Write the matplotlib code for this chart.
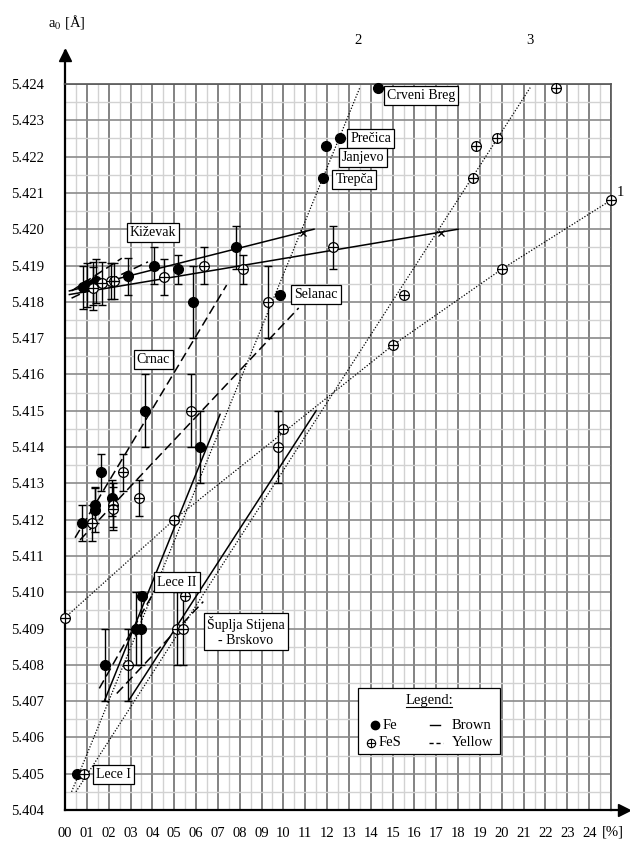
import matplotlib
matplotlib.use('Agg')
import matplotlib.pyplot as plt
import numpy as np
from matplotlib.patches import Rectangle

plt.rcParams['font.family'] = ['Liberation Serif', 'DejaVu Serif']
plt.rcParams['mathtext.fontset'] = 'stix'

# ---------------- data ----------------
# Fe (filled circles): x [%], a0 [A], error
fe_x = [0.84, 1.02, 1.30, 1.42, 2.90, 4.09, 5.19, 7.81,
        5.88, 9.84, 3.66, 6.18,
        0.80, 1.37, 1.37, 1.65, 2.17,
        0.53, 1.83, 3.25, 3.48, 3.51,
        11.80, 11.93, 12.60, 14.35]
fe_y = [5.4184, 5.41846, 5.4185, 5.41858, 5.4187, 5.4190, 5.4189, 5.4195,
        5.4180, 5.41819, 5.4150, 5.4140,
        5.4119, 5.4124, 5.41226, 5.4133, 5.4126,
        5.4050, 5.4080, 5.4090, 5.4090, 5.4099,
        5.4214, 5.4223, 5.4225, 5.4239]
fe_err = [0.0006, 0.0006, 0.0006, 0.0006, 0.0005, 0.0005, 0.0004, 0.0006,
          0.0010, 0.0, 0.0010, 0.0010,
          0.0005, 0.0005, 0.0006, 0.0005, 0.0005,
          0.0, 0.0010, 0.0010, 0.0010, 0.0,
          0.0, 0.0, 0.0, 0.0]

# FeS (crossed circles)
fes_x = [1.27, 1.68, 2.09, 2.24, 4.53, 6.36, 8.13, 9.28, 12.26,
         1.25, 2.20, 2.20, 2.64, 3.39, 5.77, 4.99, 9.74, 10.00,
         0.88, 0.00, 2.90, 5.11, 5.42, 5.49,
         15.50, 15.00, 20.00, 25.00, 18.70, 18.80, 19.80, 22.50]
fes_y = [5.41837, 5.41851, 5.41858, 5.41858, 5.41869, 5.4190, 5.4189, 5.4180, 5.4195,
         5.4119, 5.4124, 5.4123, 5.4133, 5.4126, 5.4150, 5.4120, 5.4140, 5.4145,
         5.4050, 5.4093, 5.4080, 5.4090, 5.4090, 5.4099,
         5.4182, 5.4168, 5.4189, 5.4208, 5.4214, 5.4223, 5.4225, 5.4239]
fes_err = [0.0006, 0.0006, 0.0005, 0.0005, 0.0005, 0.0005, 0.0004, 0.0010, 0.0006,
           0.0005, 0.0006, 0.0006, 0.0005, 0.0005, 0.0010, 0.0, 0.0010, 0.0,
           0.0, 0.0, 0.0010, 0.0010, 0.0010, 0.0,
           0.0, 0.0, 0.0, 0.0, 0.0, 0.0, 0.0, 0.0]

# Brown (solid) regression lines: [x0, x1], [y0, y1]
brown_x = [[0.2, 11.4], [0.2, 18.0], [1.8, 7.1], [2.9, 11.5]]
brown_y = [[5.4183, 5.4200], [5.4182, 5.4200], [5.4070, 5.4149], [5.4070, 5.4150]]

# Yellow (dashed) regression lines
yellow_x = [[0.3, 2.6], [0.3, 3.8], [0.46, 7.4], [0.69, 10.7], [1.57, 4.04], [2.37, 6.33]]
yellow_y = [[5.4183, 5.4192], [5.4181, 5.4191], [5.4115, 5.41846], [5.41144, 5.41783],
            [5.40735, 5.40997], [5.40721, 5.40974]]

# Dotted curves 1, 2, 3
curve1_x = [0.0, 5.0, 15.0, 20.0, 25.0]
curve1_y = [5.4093, 5.4120, 5.4168, 5.4189, 5.4208]
curve2_x = [0.3, 13.5]
curve2_y = [5.4045, 5.4239]
curve3_x = [0.5, 21.3]
curve3_y = [5.4045, 5.4239]

# intersection marks
cross_x = [10.9, 17.2]
cross_y = [5.4199, 5.4199]

# deposit labels
site_names = ['Kiževak', 'Crveni Breg', 'Prečica', 'Janjevo', 'Trepča', 'Selanac',
              'Crnac', 'Lece II', 'Šuplja Stijena\n- Brskovo', 'Lece I']
site_x = [4.03, 16.3, 14.0, 13.65, 13.25, 11.5, 4.04, 5.13, 8.28, 2.23]
site_y = [5.4199, 5.42369, 5.42251, 5.42198, 5.42138, 5.41819, 5.41642, 5.41028, 5.40891, 5.40498]

x_ticks = list(range(0, 25))
x_labels = ['%02d' % v for v in x_ticks]
y_ticks = [round(5.404 + 0.001 * i, 3) for i in range(21)]
y_labels = ['%.3f' % v for v in y_ticks]

# ---------------- figure ----------------
fig = plt.figure(figsize=(6.3, 8.42), dpi=100)
ax = fig.add_axes([65 / 630, 32 / 842, 546 / 630, 726 / 842])
ax.set_xlim(0, 25)
ax.set_ylim(5.404, 5.424)

ax.set_xticks(x_ticks + [25])
ax.set_xticklabels(x_labels + [''])
ax.set_xticks(np.arange(0.5, 25, 0.5), minor=True)
ax.set_yticks(y_ticks)
ax.set_yticklabels(y_labels)
ax.set_yticks(np.arange(5.4045, 5.424, 0.001), minor=True)
ax.tick_params(which='both', length=0)
ax.tick_params(axis='x', pad=12, labelsize=10.5)
ax.tick_params(axis='y', pad=15, labelsize=10.5)

ax.grid(which='major', axis='x', color='#7a7a7a', lw=1.3, zorder=0)
ax.grid(which='major', axis='y', color='#8a8a8a', lw=1.2, zorder=0)
ax.grid(which='minor', color='#d2d2d2', lw=1.0, zorder=0)
ax.set_axisbelow(True)

for s in ['top', 'right']:
    ax.spines[s].set_color('#555555')
    ax.spines[s].set_linewidth(1.2)
for s in ['bottom', 'left']:
    ax.spines[s].set_color('black')
    ax.spines[s].set_linewidth(1.6)

# axis arrows
ax.plot([0, 0], [1, 1.045], transform=ax.transAxes, color='black', lw=1.6, clip_on=False)
ax.plot([0], [1.04], marker='^', ms=8, color='black', transform=ax.transAxes, clip_on=False)
ax.plot([1, 1.028], [0, 0], transform=ax.transAxes, color='black', lw=1.6, clip_on=False)
ax.plot([1.024], [0], marker='>', ms=8, color='black', transform=ax.transAxes, clip_on=False)
ax.text(25.1, -0.03, '[%]', transform=ax.get_xaxis_transform(), ha='center', va='center',
        fontsize=10.5)
fig.text(48 / 630, 1 - 22 / 842, r'a$_0$ [Å]', fontsize=10.5, ha='left', va='center')

# lines
for xs, ys in zip(brown_x, brown_y):
    ax.plot(xs, ys, color='black', lw=1.1, ls='-', zorder=3)
for xs, ys in zip(yellow_x, yellow_y):
    ax.plot(xs, ys, color='black', lw=1.1, ls=(0, (6, 3)), zorder=3)
for xs, ys in [(curve1_x, curve1_y), (curve2_x, curve2_y), (curve3_x, curve3_y)]:
    ax.plot(xs, ys, color='black', lw=0.9, ls=(0, (1, 1.4)), zorder=3, clip_on=False)
ax.plot(cross_x, cross_y, 'x', ms=4, mew=0.9, color='black', zorder=4)

ax.text(13.4, 5.4252, '2', ha='center', va='center', fontsize=10.5)
ax.text(21.3, 5.4252, '3', ha='center', va='center', fontsize=10.5)
ax.text(25.45, 5.4210, '1', ha='center', va='center', fontsize=10.5)

# error bars
fe_xa, fe_ya, fe_ea = np.array(fe_x), np.array(fe_y), np.array(fe_err)
fes_xa, fes_ya, fes_ea = np.array(fes_x), np.array(fes_y), np.array(fes_err)
m = fe_ea > 0
ax.errorbar(fe_xa[m], fe_ya[m], yerr=fe_ea[m], fmt='none', ecolor='black',
            elinewidth=1.0, capsize=2.8, capthick=1.0, zorder=4)
m = fes_ea > 0
ax.errorbar(fes_xa[m], fes_ya[m], yerr=fes_ea[m], fmt='none', ecolor='black',
            elinewidth=1.0, capsize=2.8, capthick=1.0, zorder=4)

# markers
ax.plot(fe_x, fe_y, 'o', ms=7, mfc='black', mec='black', ls='none', zorder=5, clip_on=False)
ax.plot(fes_x, fes_y, 'o', ms=7, mfc='white', mec='black', mew=0.9, ls='none', zorder=5,
        clip_on=False)
ax.plot(fes_x, fes_y, '+', ms=7, mec='black', mew=0.9, ls='none', zorder=6, clip_on=False)

# site labels
for name, sx, sy in zip(site_names, site_x, site_y):
    ax.text(sx, sy, name, ha='center', va='center', fontsize=10, zorder=7,
            multialignment='center',
            bbox=dict(boxstyle='square,pad=0.22', fc='white', ec='black', lw=0.9))

# legend box
ax.add_patch(Rectangle((13.43, 5.40554), 6.49, 0.00181, fc='white', ec='black', lw=0.9,
                       zorder=7))
ax.text(16.67, 5.40702, 'Legend:', ha='center', va='center', fontsize=10.5, zorder=8)
ax.plot([15.62, 17.72], [5.40683, 5.40683], color='black', lw=0.8, zorder=8)
ax.plot([14.19], [5.40634], 'o', ms=6, color='black', zorder=8)
ax.text(14.55, 5.40634, 'Fe', ha='left', va='center', fontsize=10.5, zorder=8)
ax.plot([14.01], [5.40585], 'o', ms=6, mfc='white', mec='black', mew=0.8, zorder=8)
ax.plot([14.01], [5.40585], '+', ms=6, mec='black', mew=0.8, zorder=9)
ax.text(14.38, 5.40585, 'FeS', ha='left', va='center', fontsize=10.5, zorder=8)
ax.plot([16.71, 17.17], [5.40634, 5.40634], color='black', lw=1.0, zorder=8)
ax.text(17.7, 5.40634, 'Brown', ha='left', va='center', fontsize=10.5, zorder=8)
ax.plot([16.68, 17.30], [5.40585, 5.40585], color='black', lw=1.0, ls=(0, (3, 2)), zorder=8)
ax.text(17.7, 5.40585, 'Yellow', ha='left', va='center', fontsize=10.5, zorder=8)

fig.savefig('out.png', dpi=100)
